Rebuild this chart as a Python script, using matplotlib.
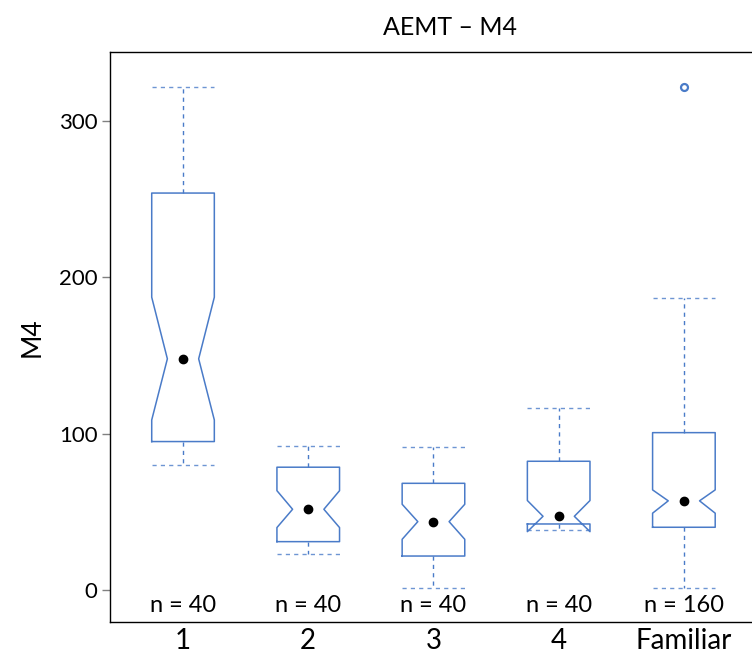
import matplotlib
matplotlib.use("Agg")
import matplotlib.pyplot as plt

plt.rcParams['font.family'] = ['Lato', 'DejaVu Sans']

# values
groups = ['1', '2', '3', '4', 'Familiar']
counts = [40, 40, 40, 40, 160]
q1 = [94.9, 30.9, 21.7, 42.2, 40.1]
q3 = [253.8, 78.5, 68.2, 82.3, 100.6]
med = [147.8, 51.6, 43.7, 47.1, 57.0]
whislo = [80.0, 23.0, 1.1, 38.4, 1.1]
whishi = [321.5, 92.3, 91.3, 116.2, 186.4]
cilo = [108.7, 39.9, 32.4, 37.3, 49.1]
cihi = [187.2, 63.5, 54.8, 57.2, 64.0]
fliers = [[], [], [], [], [321.3]]

blue = '#4a7bc8'

stats = []
for i in range(len(groups)):
    stats.append(dict(label=groups[i], med=med[i], q1=q1[i], q3=q3[i],
                      whislo=whislo[i], whishi=whishi[i],
                      cilo=cilo[i], cihi=cihi[i], fliers=fliers[i]))

fig = plt.figure(figsize=(7.52, 6.59), dpi=100)
ax = fig.add_axes([0.1463, 0.0561, 0.904, 0.865])

pos = list(range(1, len(groups) + 1))
ax.bxp(stats, positions=pos, widths=0.5, capwidths=0.5, shownotches=True,
       boxprops=dict(color=blue, linewidth=1.1),
       whiskerprops=dict(color=blue, linewidth=1.0, linestyle=(0, (3, 3))),
       capprops=dict(color=blue, linewidth=1.0, linestyle=(0, (3, 3)), alpha=0.8),
       medianprops=dict(linewidth=0),
       flierprops=dict(marker='o', markersize=5, markerfacecolor='none',
                       markeredgecolor=blue, markeredgewidth=1.6))

ax.plot(pos, med, 'o', color='black', markersize=6, zorder=5)

for p, n in zip(pos, counts):
    ax.text(p, -10, 'n = %d' % n, ha='center', va='center', fontsize=17)

ax.set_xlim(0.417, 5.846)
ax.set_ylim(-20.5, 344)
ax.set_yticks([0, 100, 200, 300])
ax.set_xticks(pos)
ax.set_xticklabels(groups)
ax.tick_params(axis='x', length=0, labelsize=20, pad=4)
ax.tick_params(axis='y', length=6, width=1, color='gray', labelsize=16, pad=3)
ax.set_ylabel('M4', fontsize=19, labelpad=10)
ax.set_title('AEMT – M4', fontsize=18, pad=12)
for s in ax.spines.values():
    s.set_linewidth(1.0)

fig.savefig('out.png', dpi=100)
